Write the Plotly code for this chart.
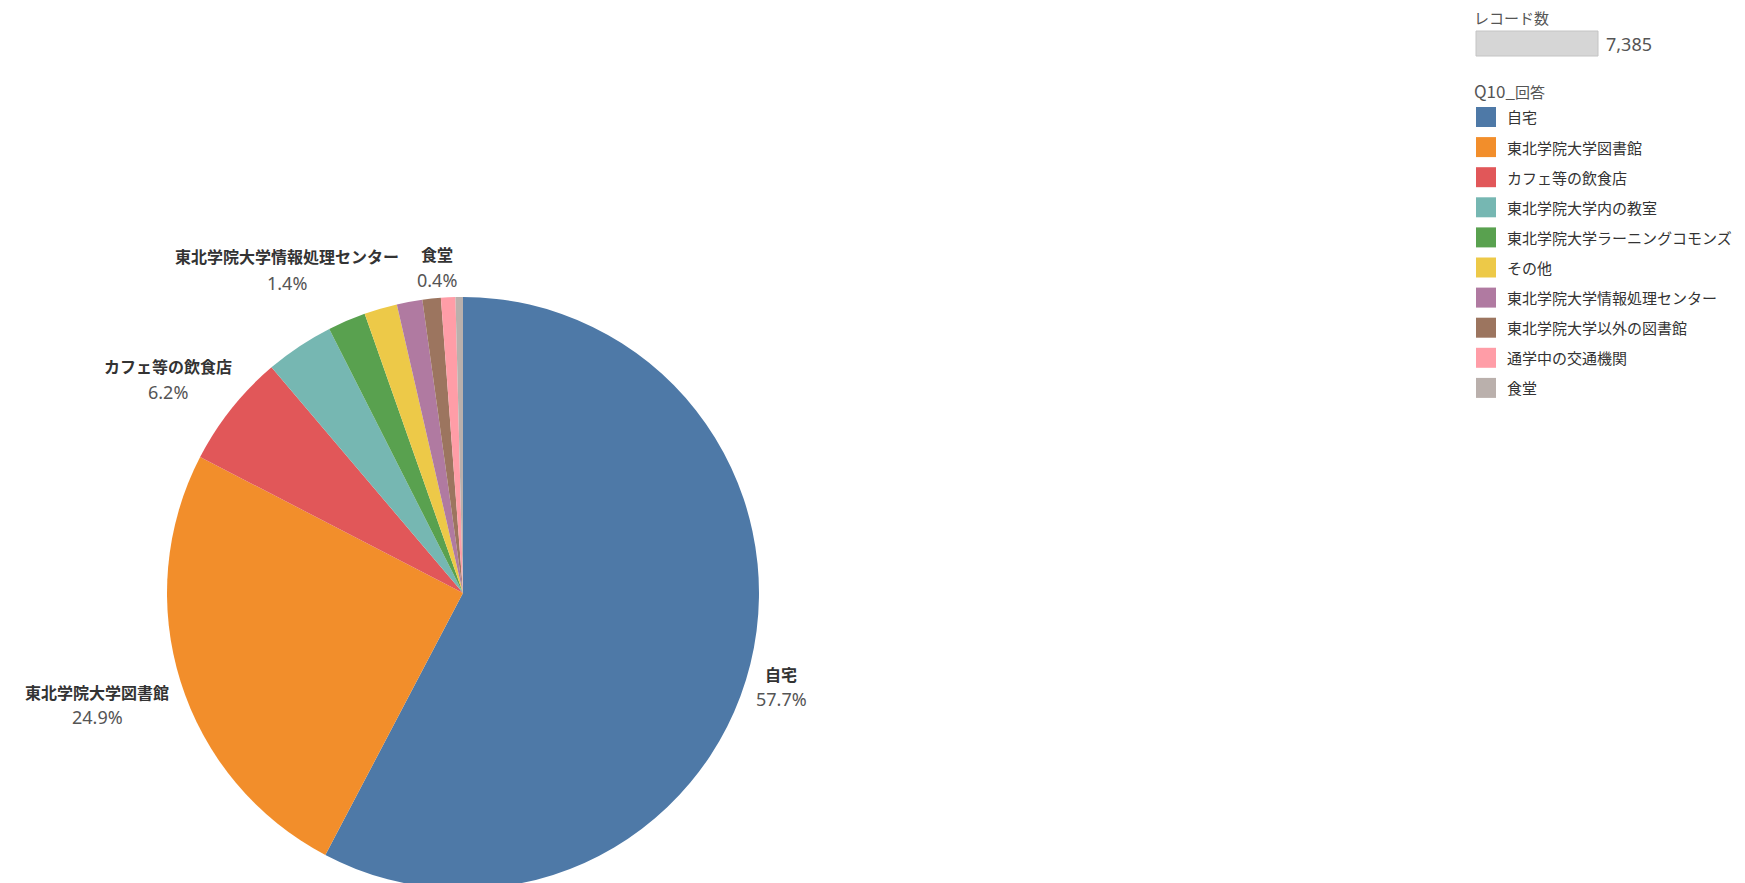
import plotly.graph_objects as go

# ---------------- data ----------------
categories = [
    "自宅",
    "東北学院大学図書館",
    "カフェ等の飲食店",
    "東北学院大学内の教室",
    "東北学院大学ラーニングコモンズ",
    "その他",
    "東北学院大学情報処理センター",
    "東北学院大学以外の図書館",
    "通学中の交通機関",
    "食堂",
]
record_counts = [4261, 1839, 458, 276, 153, 133, 103, 74, 58, 30]
colors = ["#4E79A7", "#F28E2B", "#E15759", "#76B7B2", "#59A14F",
          "#EDC948", "#B07AA1", "#9C755F", "#FF9DA7", "#BAB0AC"]
legend_title_latin = "Q10_"
legend_title_cjk = "回答"
size_legend_title = "レコード数"
labelled = ["自宅", "東北学院大学図書館", "カフェ等の飲食店",
            "東北学院大学情報処理センター", "食堂"]

# ---------------- layout constants (pixels) ----------------
W, H = 1745, 890
FONT = "Noto Sans CJK JP, Noto Sans, sans-serif"
NUMFONT = "Noto Sans, Noto Sans CJK JP, sans-serif"
label_pos = {  # centre x, name line y, percent line y
    "自宅": (781, 674, 699),
    "東北学院大学図書館": (97, 692, 717),
    "カフェ等の飲食店": (168, 366, 392),
    "東北学院大学情報処理センター": (287, 256, 283),
    "食堂": (437, 254, 280),
}
pie_cx, pie_top, pie_r = 463, 297, 296


def px(x):
    return x / W


def py(y):
    return 1 - y / H


total = sum(record_counts)

fig = go.Figure()
fig.add_trace(go.Pie(
    labels=categories,
    values=record_counts,
    sort=False,
    direction="clockwise",
    rotation=0,
    marker=dict(colors=colors, line=dict(width=0)),
    textinfo="none",
    hoverinfo="label+value+percent",
    showlegend=False,
    domain=dict(x=[px(pie_cx - pie_r), px(pie_cx + pie_r)],
                y=[py(pie_top + 2 * pie_r), py(pie_top)]),
))

annotations = []
shapes = []

# slice labels
for cat in labelled:
    i = categories.index(cat)
    cx, y1, y2 = label_pos[cat]
    pct = f"{record_counts[i] / total * 100:.1f}%"
    annotations.append(dict(x=px(cx), y=py(y1), xref="paper", yref="paper",
                            text=cat, showarrow=False, xanchor="center", yanchor="middle",
                            font=dict(family=FONT, size=16, color="#333333", weight="bold")))
    annotations.append(dict(x=px(cx), y=py(y2), xref="paper", yref="paper",
                            text=pct, showarrow=False, xanchor="center", yanchor="middle",
                            font=dict(family=NUMFONT, size=18, color="#555555")))

# size legend
annotations.append(dict(x=px(1472), y=py(18), xref="paper", yref="paper",
                        text=size_legend_title, showarrow=False, xanchor="left", yanchor="middle",
                        font=dict(family=FONT, size=15, color="#555555")))
shapes.append(dict(type="rect", xref="paper", yref="paper",
                   x0=px(1476), x1=px(1598), y0=py(56), y1=py(31),
                   fillcolor="#d6d6d6", line=dict(color="#c4c4c4", width=1)))
annotations.append(dict(x=px(1604), y=py(44), xref="paper", yref="paper",
                        text=f"{total:,}", showarrow=False, xanchor="left", yanchor="middle",
                        font=dict(family=NUMFONT, size=18, color="#555555")))

# colour legend
annotations.append(dict(x=px(1472), y=py(90), xref="paper", yref="paper",
                        text=f"<span style='font-size:17px'>{legend_title_latin}</span>{legend_title_cjk}",
                        showarrow=False, xanchor="left", yanchor="middle",
                        font=dict(family=FONT, size=15, color="#555555")))
for i, cat in enumerate(categories):
    yc = 117 + 30.1 * i
    shapes.append(dict(type="rect", xref="paper", yref="paper",
                       x0=px(1476), x1=px(1496), y0=py(yc + 10), y1=py(yc - 10),
                       fillcolor=colors[i], line=dict(width=0)))
    annotations.append(dict(x=px(1505), y=py(yc), xref="paper", yref="paper",
                            text=cat, showarrow=False, xanchor="left", yanchor="middle",
                            font=dict(family=FONT, size=15, color="#333333")))

fig.update_layout(
    width=W, height=H,
    margin=dict(l=0, r=0, t=0, b=0),
    paper_bgcolor="white", plot_bgcolor="white",
    annotations=annotations, shapes=shapes,
    font=dict(family=FONT),
)

fig.write_html("out.html", config={"displayModeBar": False},
               post_script="document.body.style.margin='0';document.body.style.overflow='hidden';")
